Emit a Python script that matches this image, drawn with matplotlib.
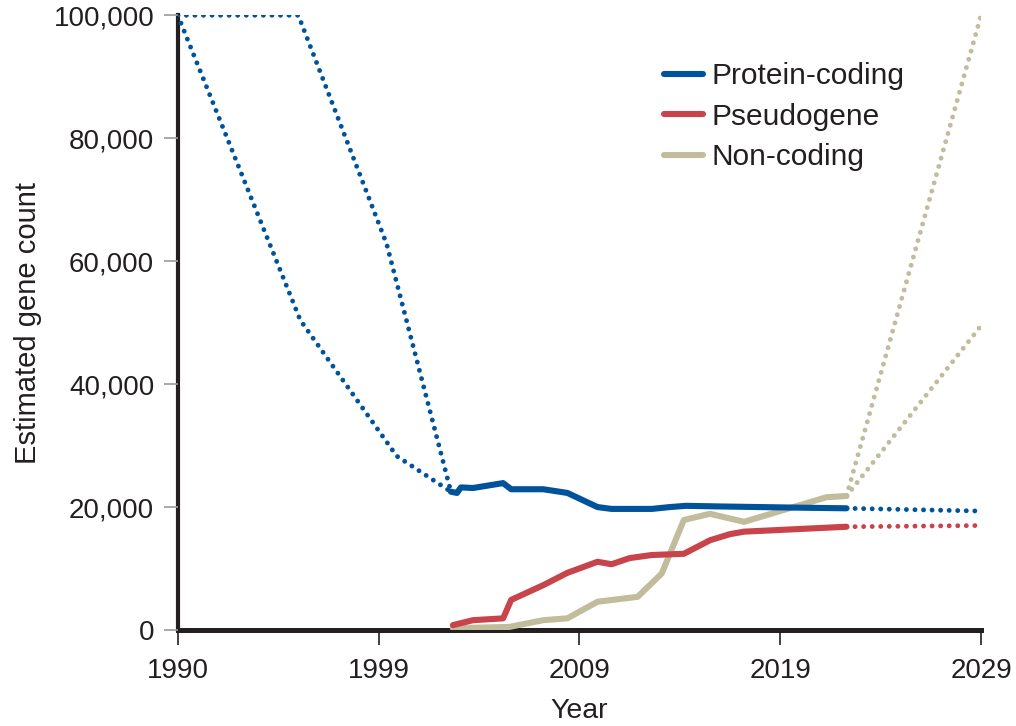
import matplotlib.pyplot as plt

# historical estimates (dotted) before annotation era
est_a_years = [1990, 1996.1, 2000.9, 2003.6]
est_a_vals = [100000, 50400, 28300, 22500]
est_b_years = [1990, 1996.0, 2000.4, 2003.6]
est_b_vals = [100000, 100000, 62800, 22500]

# annotated counts
pc_years = [2003.6, 2003.9, 2004.1, 2004.7, 2006.2, 2006.6, 2008.2, 2009.4, 2010.9, 2011.6,
            2013.6, 2014.5, 2015.3, 2017.0, 2019.0, 2021.0, 2023.3]
pc_vals = [22500, 22300, 23200, 23100, 23900, 22900, 22900, 22300, 20000, 19700,
           19700, 20000, 20200, 20100, 20000, 19900, 19800]
ps_years = [2003.7, 2004.7, 2006.2, 2006.6, 2008.2, 2009.4, 2010.9, 2011.6, 2012.5, 2013.6,
            2015.2, 2016.5, 2017.5, 2018.2, 2023.3]
ps_vals = [800, 1600, 1900, 4900, 7300, 9300, 11100, 10700, 11700, 12200,
           12400, 14600, 15600, 16000, 16800]
nc_years = [2003.7, 2006.5, 2008.2, 2009.4, 2010.9, 2012.9, 2014.1, 2015.2, 2016.5, 2018.2,
            2022.3, 2023.3]
nc_vals = [300, 500, 1600, 1900, 4600, 5400, 9200, 17900, 18900, 17600,
           21600, 21800]

# projections
proj_years = [2023.3, 2030]
pc_proj = [19800, 19350]
ps_proj = [16800, 17000]
nc_proj_hi = [21800, 100000]
nc_proj_lo = [21800, 49500]

tick_pos = [1990, 2000, 2010, 2020, 2030]
tick_labels = ['1990', '1999', '2009', '2019', '2029']
y_ticks = [0, 20000, 40000, 60000, 80000, 100000]

blue = '#00539b'
red = '#c8434a'
beige = '#c1bc9c'
ink = '#231f20'

plt.rcParams['font.family'] = ['Liberation Sans', 'DejaVu Sans']

fig = plt.figure(figsize=(10.16, 7.26), dpi=100)
ax = fig.add_axes([0.175, 0.1322, 0.7906, 0.8468])

dot = dict(linestyle=(0, (0.01, 1.75)), linewidth=3.5, dash_capstyle='round')
solid = dict(linewidth=4.4, solid_capstyle='round', solid_joinstyle='round')

ax.plot(est_a_years, est_a_vals, color=blue, **dot)
ax.plot(est_b_years, est_b_vals, color=blue, **dot)
ax.plot(proj_years, nc_proj_hi, color=beige, **dot)
ax.plot(proj_years, nc_proj_lo, color=beige, **dot)
ax.plot(proj_years, pc_proj, color=blue, **dot)
ax.plot(proj_years, ps_proj, color=red, **dot)

ax.plot(nc_years, nc_vals, color=beige, label='Non-coding', **solid)
ax.plot(ps_years, ps_vals, color=red, label='Pseudogene', **solid)
ax.plot(pc_years, pc_vals, color=blue, label='Protein-coding', **solid)

ax.set_xlim(1990, 2030)
ax.set_ylim(0, 100000)
ax.set_xticks(tick_pos)
ax.set_xticklabels(tick_labels)
ax.set_yticks(y_ticks)
ax.set_yticklabels([f'{v:,}' for v in y_ticks])

for side in ['top', 'right']:
    ax.spines[side].set_visible(False)
ax.spines['left'].set_linewidth(3)
ax.spines['bottom'].set_linewidth(3.6)
ax.spines['left'].set_color(ink)
ax.spines['bottom'].set_color(ink)
ax.spines['left'].set_zorder(1)
ax.spines['bottom'].set_zorder(1)

ax.tick_params(axis='y', length=10, width=1.2, color='#9a9a9a', pad=7, labelsize=20, labelcolor=ink)
ax.tick_params(axis='x', length=11, width=1.2, color=ink, pad=9, labelsize=20, labelcolor=ink)

ax.set_xlabel('Year', fontsize=20.5, color=ink, labelpad=10)
ax.set_ylabel('Estimated gene count', fontsize=21, color=ink, labelpad=8)

handles, labels = ax.get_legend_handles_labels()
order = [2, 1, 0]
ax.legend([handles[i] for i in order], [labels[i] for i in order],
          loc='upper left', bbox_to_anchor=(0.572, 0.967), frameon=False,
          fontsize=21.5, handlelength=1.3, handletextpad=0.3, labelspacing=0.42,
          labelcolor=ink)

fig.savefig('out.png', dpi=100)
